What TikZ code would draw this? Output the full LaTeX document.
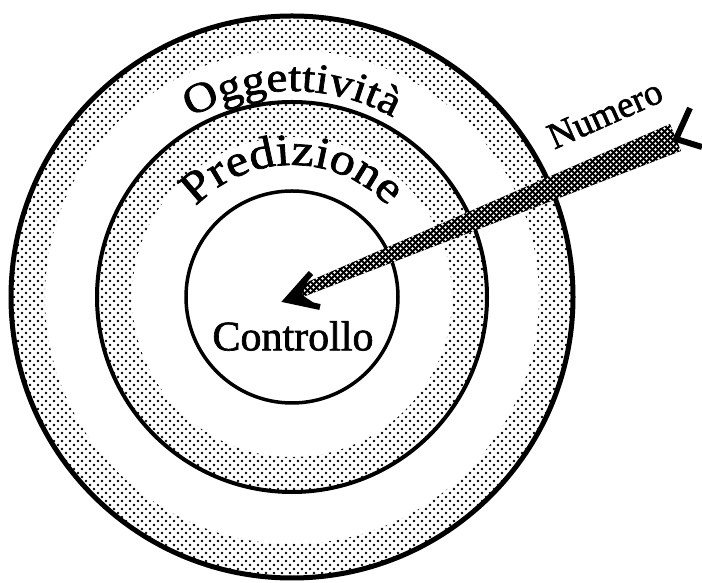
\documentclass[tikz,border=0pt]{standalone}
\usepackage{fontspec}
\setmainfont{Liberation Serif}[FakeBold=1.6]
\newfontfamily\arcfont{Liberation Serif}[FakeStretch=1.12, FakeBold=1.6]
\usetikzlibrary{patterns.meta,decorations.text}
\tikzdeclarepattern{
  name=halftone,
  type=uncolored,
  bounding box={(-4pt,-4pt) and (4pt,4pt)},
  tile size={(8pt,8pt)},
  code={
    \fill (-2pt,-2pt) circle (1.45pt);
    \fill (2pt,2pt) circle (1.45pt);
  }
}
\tikzdeclarepattern{
  name=holes,
  type=uncolored,
  bounding box={(-3pt,-3pt) and (3pt,3pt)},
  tile size={(6pt,6pt)},
  code={
    \fill (-1.5pt,-1.5pt) circle (1.3pt);
    \fill (1.5pt,1.5pt) circle (1.3pt);
  }
}
\tikzset{
  ring/.style={pattern=halftone, pattern color=black, even odd rule},
  ringline/.style={draw=black, line width=#1},
  arclabel/.style 2 args={decorate, decoration={text along path, text align=center, text={|\arcfont\fontsize{#1}{#1}\selectfont|#2}}},
  plainlabel/.style={font=\fontsize{42}{42}\selectfont, inner sep=0pt},
  shaftfill/.style={fill=black},
  shaftholes/.style={pattern=holes, pattern color=white},
  headline/.style={line width=6pt, line join=miter, line cap=butt},
}
\begin{document}
\begin{tikzpicture}[x=1pt,y=1pt]
\useasboundingbox (0,0) rectangle (702,583);
\fill[white] (0,0) rectangle (702,583);
\coordinate (C) at (292,286);
% dotted bands
\path[ring] (C) circle (282pt) (C) circle (247pt);
\path[ring] (C) circle (195pt) (C) circle (160pt);
% circle outlines
\draw[ringline=5pt] (C) circle (281pt);
\draw[ringline=4pt] (C) circle (195pt);
\draw[ringline=3.5pt] (C) circle (106pt);
% arc labels
\path[arclabel={42}{Oggettività}] ([shift={(125:206)}]C) arc[start angle=125, end angle=55, radius=206];
\path[arclabel={45}{Predizione}] ([shift={(145:132)}]C) arc[start angle=145, end angle=35, radius=132];
\node[plainlabel] (ctrl) at (293,247) {Controllo};
\node[plainlabel, font=\fontsize{37}{37}\selectfont, rotate=24] (num) at (605,469) {Numero};
% arrow
\coordinate (tip) at (287,283);
\coordinate (s1) at (301.5,285.5);
\coordinate (s2) at (297.0,296.5);
\coordinate (s3) at (670.0,459.0);
\coordinate (s4) at (681.0,432.0);
\coordinate (b1) at (311,310);
\coordinate (b2) at (320,276);
\coordinate (f1) at (690,475);
\coordinate (fv) at (676,444);
\coordinate (f2) at (702,436);
\fill[shaftfill] (s1) -- (s2) -- (s3) -- (s4) -- cycle;
\fill[shaftholes] (s1) -- (s2) -- (s3) -- (s4) -- cycle;
\fill (b1) -- (tip) -- (b2) -- (302,288) -- cycle;
\draw[headline] (b1) -- (tip) -- (b2);
\draw[headline] (f1) -- (fv) -- (f2);
\end{tikzpicture}
\end{document}
